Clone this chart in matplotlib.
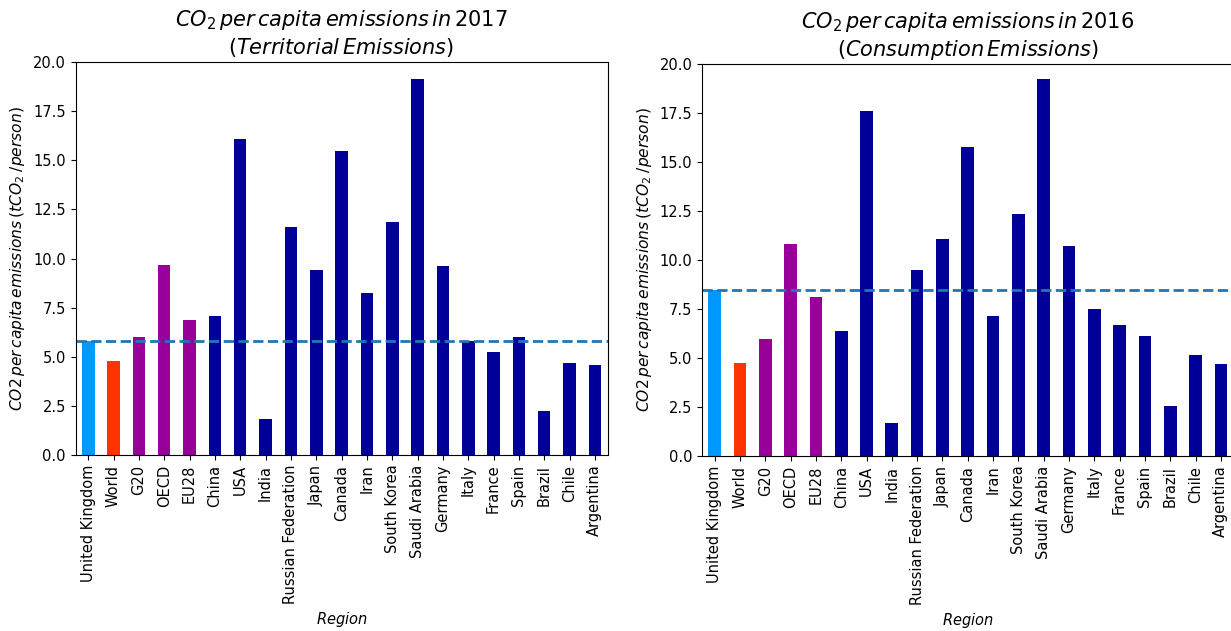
import matplotlib
matplotlib.use("Agg")
import matplotlib.pyplot as plt
import numpy as np

regions = ["United Kingdom", "World", "G20", "OECD", "EU28", "China", "USA",
           "India", "Russian Federation", "Japan", "Canada", "Iran",
           "South Korea", "Saudi Arabia", "Germany", "Italy", "France",
           "Spain", "Brazil", "Chile", "Argentina"]

territorial_2017 = [5.81, 4.76, 6.00, 9.65, 6.88, 7.05, 16.06, 1.82, 11.61,
                    9.43, 15.46, 8.24, 11.86, 19.15, 9.60, 5.80, 5.23, 6.00,
                    2.26, 4.66, 4.60]

consumption_2016 = [8.47, 4.77, 5.97, 10.83, 8.11, 6.36, 17.60, 1.66, 9.51,
                    11.05, 15.74, 7.13, 12.35, 19.23, 10.73, 7.51, 6.69, 6.14,
                    2.53, 5.15, 4.69]

# one colour per region group: UK, world, country blocs, single countries
bar_colors = ["#0099ff", "#ff3300", "#990099", "#990099", "#990099"] + ["#000099"] * 16

W, H = 1231, 631
fig = plt.figure(figsize=(W / 100, H / 100), dpi=100)


def px_axes(left, right, top, bottom):
    return fig.add_axes([left / W, 1 - bottom / H, (right - left) / W, (bottom - top) / H])


ax1 = px_axes(75.5, 607.5, 62, 455)
ax2 = px_axes(702.0, 1233.5, 64, 456)

panels = [
    (ax1, territorial_2017,
     r"$CO_2\,per\,capita\,emissions\,in\,2017$" + "\n" + r"$(Territorial\,Emissions)$"),
    (ax2, consumption_2016,
     r"$CO_2\,per\,capita\,emissions\,in\,2016$" + "\n" + r"$(Consumption\,Emissions)$"),
]

x = np.arange(len(regions))
for ax, vals, title in panels:
    ax.bar(x, vals, width=0.5, color=bar_colors)
    ax.axhline(vals[0], ls="--", lw=2, color="#1f77b4")
    ax.set_xlim(-0.5, len(regions) - 0.5)
    ax.set_ylim(0, 20.0)
    ax.set_yticks(np.arange(0, 20.01, 2.5))
    ax.set_yticklabels([f"{v:.1f}" for v in np.arange(0, 20.01, 2.5)], fontsize=10.5)
    ax.set_xticks(x)
    ax.set_xticklabels(regions, rotation=90, fontsize=10.5)
    ax.set_title(title, fontsize=15, pad=6)
    ax.set_ylabel(r"$CO2\,per\,capita\,emissions\,(tCO_2\;/person)$", fontsize=11.2)
    ax.set_xlabel(r"$Region$", fontsize=10.5)

fig.savefig("out.png", dpi=100)
